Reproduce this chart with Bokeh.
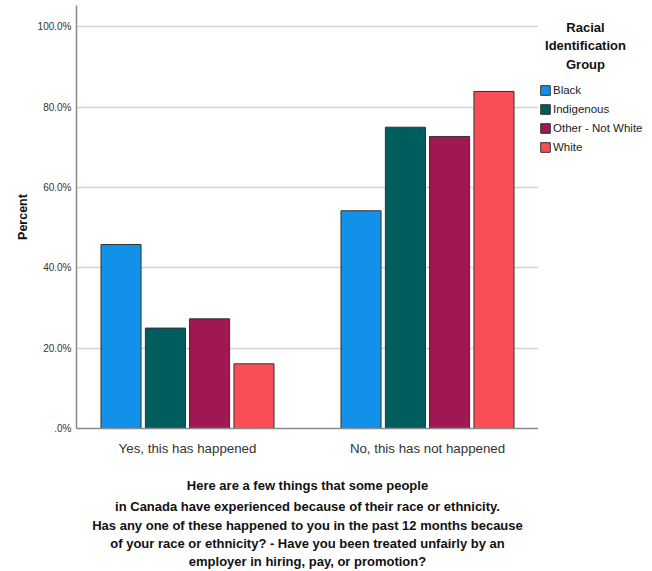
from math import pi
from bokeh.plotting import figure
from bokeh.layouts import row
from bokeh.models import (ColumnDataSource, FactorRange, Range1d, FixedTicker,
                          Legend, LegendItem, Label, Title)
from bokeh.transform import dodge
from bokeh.embed import file_html
from bokeh.resources import INLINE

categories = ["Yes, this has happened", "No, this has not happened"]
groups = ["Black", "Indigenous", "Other - Not White", "White"]
black = [45.8, 54.2]
indigenous = [25.0, 75.0]
other_not_white = [27.3, 72.7]
white = [16.1, 83.9]
colors = ["#1192e8", "#005d5d", "#9f1853", "#fa4d56"]
y_ticks = [0, 20, 40, 60, 80, 100]
y_tick_labels = [".0%", "20.0%", "40.0%", "60.0%", "80.0%", "100.0%"]
x_title_lines = [
    "Here are a few things that some people",
    "in Canada have experienced because of their race or ethnicity.",
    "Has any one of these happened to you in the past 12 months because",
    "of your race or ethnicity? - Have you been treated unfairly by an",
    "employer in hiring, pay, or promotion?",
]
y_title = "Percent"
legend_title_lines = ["Racial", "Identification", "Group"]

source = ColumnDataSource(dict(cat=categories, s0=black, s1=indigenous,
                               s2=other_not_white, s3=white))

FONT = "Liberation Sans"
H = 571
p = figure(width=538, height=H, x_range=FactorRange(*categories, range_padding=-0.0375),
           y_range=Range1d(0, 105.3), output_backend="svg", toolbar_location=None,
           min_border_left=76, min_border_right=0, min_border_top=5,
           min_border_bottom=143)
p.outline_line_color = None

offsets = [-0.277, -0.092, 0.092, 0.277]
bar_kw = dict(width=0.167, line_color="#333333", line_width=1)
for i, g in enumerate(groups):
    p.vbar(x=dodge("cat", offsets[i], range=p.x_range), top="s%d" % i,
           source=source, fill_color=colors[i], **bar_kw)

# axes
p.yaxis.ticker = FixedTicker(ticks=y_ticks)
p.yaxis.major_label_overrides = {t: l for t, l in zip(y_ticks, y_tick_labels)}
p.yaxis.major_tick_line_color = None
p.yaxis.minor_tick_line_color = None
p.yaxis.major_tick_out = 0
p.yaxis.major_label_standoff = 5
p.yaxis.major_label_text_font = FONT
p.yaxis.major_label_text_font_size = "10px"
p.yaxis.major_label_text_color = "#333333"
p.yaxis.axis_line_color = "#8a8a8a"
p.yaxis.axis_line_width = 1.5
p.yaxis.axis_label = y_title
p.yaxis.axis_label_standoff = 5
p.yaxis.axis_label_text_font = FONT
p.yaxis.axis_label_text_font_style = "bold"
p.yaxis.axis_label_text_font_size = "12.5px"
p.yaxis.axis_label_text_color = "#111111"

p.xaxis.major_tick_line_color = None
p.xaxis.major_tick_out = 0
p.xaxis.major_label_standoff = 12
p.xaxis.major_label_text_font = FONT
p.xaxis.major_label_text_font_size = "13.3px"
p.xaxis.major_label_text_color = "#333333"
p.xaxis.axis_line_color = "#8a8a8a"
p.xaxis.axis_line_width = 1.5
p.xaxis.axis_label = x_title_lines[0]
p.xaxis.axis_label_standoff = 19
p.xaxis.axis_label_text_font = FONT
p.xaxis.axis_label_text_font_style = "bold"
p.xaxis.axis_label_text_font_size = "13px"
p.xaxis.axis_label_text_color = "#111111"

p.xgrid.grid_line_color = None
p.ygrid.ticker = FixedTicker(ticks=y_ticks[1:])
p.ygrid.grid_line_color = "#d4d4d4"
p.ygrid.grid_line_width = 1.5

for k, line in enumerate(x_title_lines[1:]):
    p.add_layout(Title(text=line, align="center", text_font=FONT, text_font_style="bold",
                       text_font_size="13px", text_color="#111111",
                       standoff=(3 if k == 0 else 0.6)), "below")

# legend panel (separate figure to the right; its frame is aligned with the main frame)
lg = figure(width=114, height=H, x_range=FactorRange(*categories), y_range=Range1d(0, 105.3),
            output_backend="svg", toolbar_location=None, x_axis_location=None,
            y_axis_location=None, min_border=0)
lg.outline_line_color = None
lg.xgrid.grid_line_color = None
lg.ygrid.grid_line_color = None
items = []
for i, g in enumerate(groups):
    r = lg.vbar(x="cat", top="s%d" % i, source=source, fill_color=colors[i], **bar_kw)
    r.visible = False
    items.append(LegendItem(label=g, renderers=[r]))
FRAME_BOTTOM = 428
legend = Legend(items=items, location=(1, FRAME_BOTTOM - 156), glyph_width=12, glyph_height=12,
                label_height=19, label_standoff=2, spacing=0, padding=0, margin=0,
                label_text_font=FONT, label_text_font_size="11.5px",
                label_text_color="#222222", border_line_color=None,
                background_fill_alpha=0)
lg.add_layout(legend, "center")
for k, line in enumerate(legend_title_lines):
    lg.add_layout(Label(x=47, y=FRAME_BOTTOM - (27 + 18.3 * k), x_units="screen", y_units="screen",
                        text=line, text_align="center", text_baseline="alphabetic",
                        text_font=FONT, text_font_style="bold", text_font_size="13px",
                        text_color="#111111"))

layout = row(p, lg, spacing=0)
open("out.html", "w").write(file_html(layout, INLINE))
